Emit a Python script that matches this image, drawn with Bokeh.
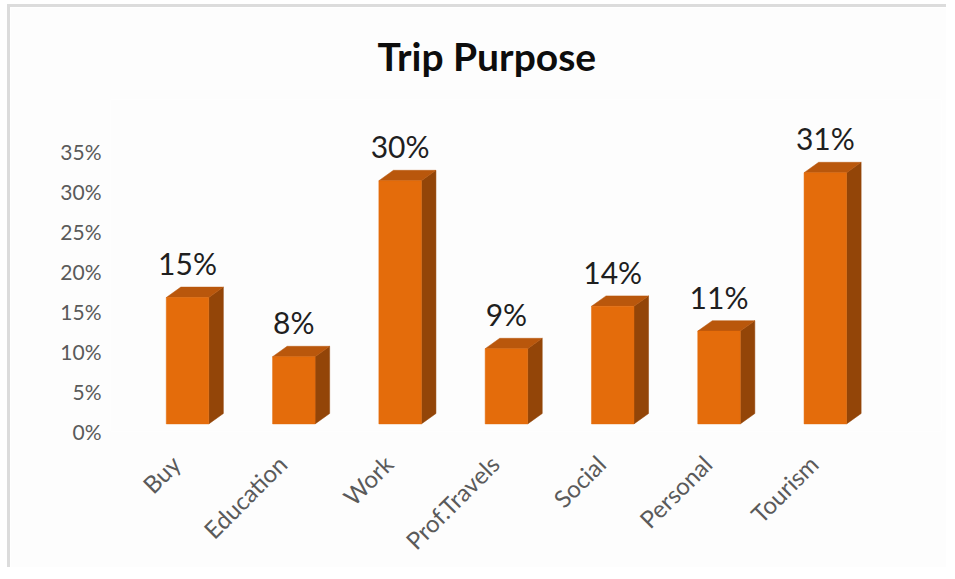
import numpy as np
from bokeh.plotting import figure
from bokeh.models import Range1d, FixedTicker, PrintfTickFormatter
from bokeh.embed import file_html
from bokeh.resources import INLINE
from bokeh.core.properties import value

# ---- data ----
categories = ["Buy", "Education", "Work", "Prof.Travels", "Social", "Personal", "Tourism"]
shares = [15.4, 8.0, 30.0, 9.0, 14.3, 11.2, 31.0]   # percent
y_ticks = [0, 5, 10, 15, 20, 25, 30, 35]

# ---- 3D bar styling (depth effect) ----
BAR_SHIFT = 0.11    # bar front centre relative to category tick
HALF_W = 0.2
BASE = 0.95         # front face lifted by perspective
LIFT = 1.35
DX = 0.137          # depth offset (x, data units)
DY = 1.3            # depth offset (y, data units)

FRONT = "#E46C0B"
TOP = "#B9570C"
SIDE = "#934508"

n = len(categories)
xc = np.arange(n) + BAR_SHIFT
vals = np.array(shares)
left = xc - HALF_W
right = xc + HALF_W
topv = vals + LIFT

p = figure(width=939, height=563, output_backend="svg", toolbar_location=None,
           x_range=Range1d(-0.6147, 7.203), y_range=Range1d(0, 41.5),
           min_border_left=100, min_border_right=8, min_border_top=92,
           min_border_bottom=139)

p.background_fill_color = "#fdfdfd"
p.border_fill_color = "#fdfdfd"
p.outline_line_color = None
p.grid.visible = False
p.styles = {"margin-top": "4px", "margin-left": "7px",
            "border-top": "3px solid #dcdcdc", "border-left": "3px solid #dcdcdc"}

# side faces
p.patches(xs=[[r, r + DX, r + DX, r] for r in right],
          ys=[[BASE, BASE + DY, t + DY, t] for t in topv],
          fill_color=SIDE, line_color=SIDE, line_width=0.5)
# top faces
p.patches(xs=[[l, r, r + DX, l + DX] for l, r in zip(left, right)],
          ys=[[t, t, t + DY, t + DY] for t in topv],
          fill_color=TOP, line_color=TOP, line_width=0.5)
# front faces
p.quad(left=left, right=right, bottom=BASE, top=topv,
       fill_color=FRONT, line_color=FRONT, line_width=0.5)

# value labels
p.text(x=xc, y=topv + DY, text=[f"{round(v)}%" for v in shares],
       text_align="center", text_baseline="bottom", y_offset=-6,
       text_font=value("Lato"), text_font_size="30px", text_color="#1f1f1f")

# title
p.title.text = "Trip Purpose"
p.title.text_font = "Lato"
p.title.text_font_size = "39px"
p.title.text_font_style = "bold"
p.title.text_color = "#0d0d0d"
p.title.align = "left"
p.title.offset = 267
p.title.standoff = 41

# axes
p.yaxis.ticker = FixedTicker(ticks=y_ticks)
p.yaxis.formatter = PrintfTickFormatter(format="%d%%")
p.xaxis.ticker = FixedTicker(ticks=list(range(n)))
p.xaxis.major_label_overrides = {i: c for i, c in enumerate(categories)}
p.xaxis.major_label_orientation = np.pi / 4

for ax in (p.xaxis, p.yaxis):
    ax.axis_line_color = None
    ax.major_tick_line_color = None
    ax.minor_tick_line_color = None
    ax.major_tick_out = 0
    ax.major_tick_in = 0
    ax.minor_tick_out = 0
    ax.major_label_text_font = "Lato"
    ax.major_label_text_color = "#5a5a5a"

p.yaxis.major_label_text_font_size = "21px"
p.yaxis.major_label_standoff = 9
p.xaxis.major_label_text_font_size = "24px"
p.xaxis.major_label_standoff = 28

open("out.html", "w").write(file_html(p, INLINE))
